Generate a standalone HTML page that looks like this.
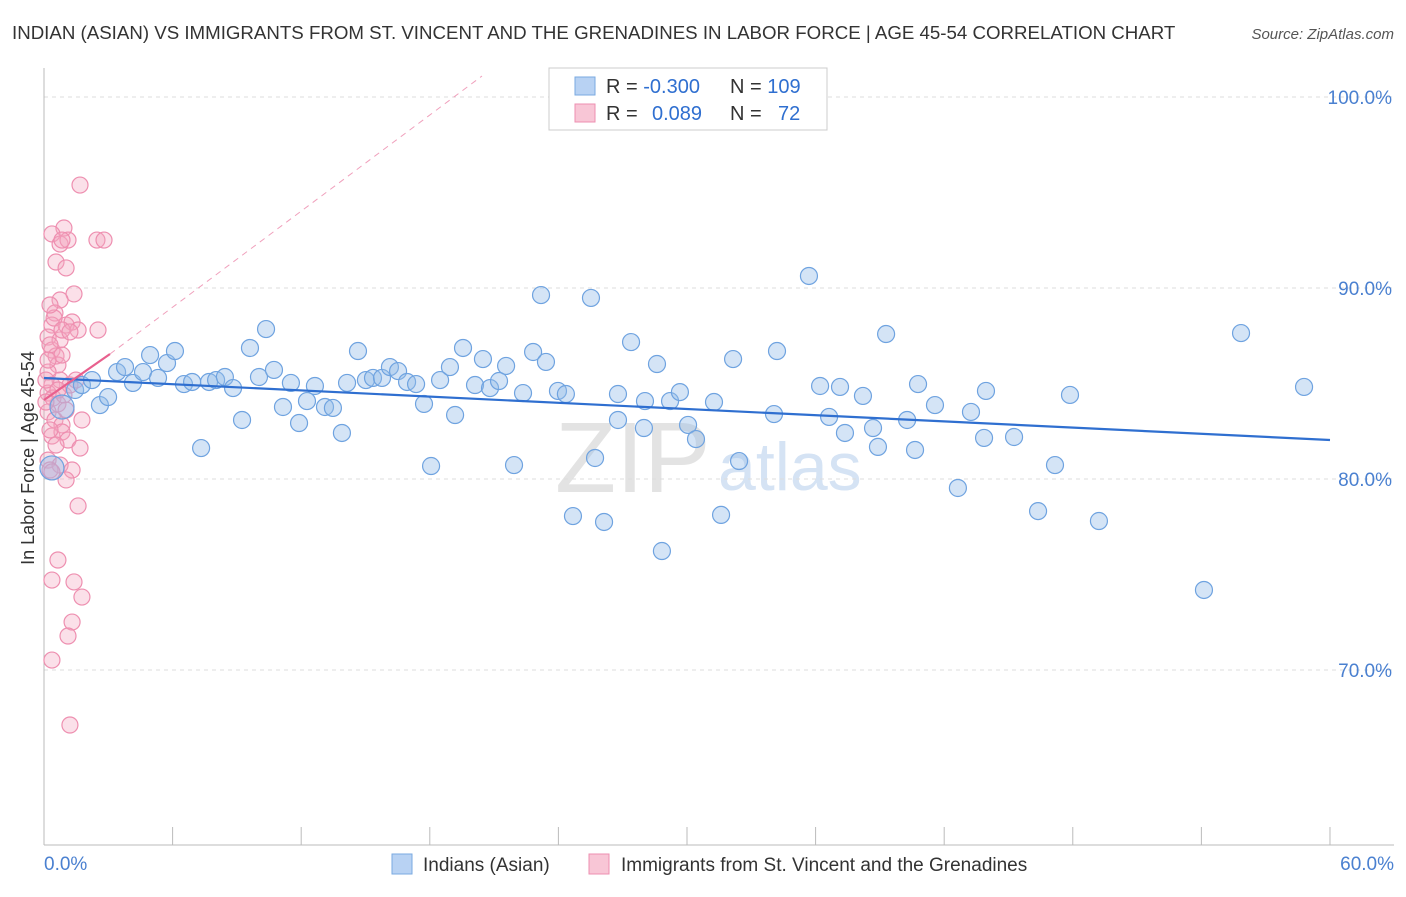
<!DOCTYPE html>
<html><head><meta charset="utf-8"><style>
body{margin:0;background:#fff;font-family:"Liberation Sans",sans-serif}
svg text{font-family:"Liberation Sans",sans-serif}
</style></head><body>
<svg id="chart" width="1406" height="892">
<text x="12" y="39" font-size="18.7" fill="#333">INDIAN (ASIAN) VS IMMIGRANTS FROM ST. VINCENT AND THE GRENADINES IN LABOR FORCE | AGE 45-54 CORRELATION CHART</text>
<text x="1394" y="39" font-size="15" fill="#555" font-style="italic" text-anchor="end">Source: ZipAtlas.com</text>
<text x="34" y="458" font-size="18" fill="#333" text-anchor="middle" transform="rotate(-90 34 458)">In Labor Force | Age 45-54</text>
<text x="555" y="492" font-size="100" fill="#e3e3e3" font-family="Liberation Serif">ZIP</text>
<text x="718" y="490" font-size="68" fill="#d5e3f4">atlas</text>
<g id="grid"></g><g id="axes"></g><g id="pts"></g><g id="trend"></g>
<g>
<rect x="549" y="68" width="278" height="62" fill="#fff" stroke="#ccc"/>
<rect x="575" y="77" width="20" height="18" fill="#b8d2f3" stroke="#7aaae0"/>
<rect x="575" y="104" width="20" height="18" fill="#f8c6d6" stroke="#ee8fb0"/>
<text x="606" y="93" font-size="20" fill="#333">R = <tspan fill="#2f6fd0">-0.300</tspan><tspan x="730">N = </tspan><tspan fill="#2f6fd0">109</tspan></text>
<text x="606" y="120" font-size="20" fill="#333">R = <tspan fill="#2f6fd0" x="652">0.089</tspan><tspan x="730">N = </tspan><tspan fill="#2f6fd0" x="778">72</tspan></text>
</g>
<g>
<rect x="392" y="854" width="20" height="20" fill="#b8d2f3" stroke="#7aaae0"/>
<text x="423" y="871" font-size="19" fill="#333">Indians (Asian)</text>
<rect x="589" y="854" width="20" height="20" fill="#f8c6d6" stroke="#ee8fb0"/>
<text x="621" y="871" font-size="19" fill="#333">Immigrants from St. Vincent and the Grenadines</text>
</g>
</svg>
<script>
const yTicks=[100,90,80,70];
const xTickLabels=["0.0%","60.0%"];
const bluePx=[[52,468],[62,407],[75,390],[82,385],[92,380],[100,405],[108,397],[117,372],[125,367],[133,383],[143,372],[150,355],[158,378],[167,363],[175,351],[184,384],[192,382],[201,448],[209,382],[216,380],[225,377],[233,388],[242,420],[250,348],[259,377],[266,329],[274,370],[283,407],[291,383],[299,423],[307,401],[315,386],[325,407],[333,408],[342,433],[347,383],[358,351],[366,380],[373,378],[382,378],[390,367],[398,371],[407,382],[416,384],[424,404],[431,466],[440,380],[450,367],[455,415],[463,348],[475,385],[483,359],[490,388],[499,381],[506,366],[514,465],[523,393],[533,352],[541,295],[546,362],[558,391],[566,394],[573,516],[591,298],[595,458],[604,522],[618,394],[618,420],[631,342],[644,428],[645,401],[657,364],[662,551],[670,401],[680,392],[688,425],[696,439],[714,402],[721,515],[733,359],[739,461],[774,414],[777,351],[809,276],[820,386],[829,417],[840,387],[845,433],[863,396],[873,428],[878,447],[886,334],[907,420],[915,450],[918,384],[935,405],[958,488],[971,412],[984,438],[986,391],[1014,437],[1038,511],[1055,465],[1070,395],[1099,521],[1204,590],[1241,333],[1304,387]];
const pinkPx=[[80,185],[64,228],[52,234],[60,244],[68,240],[97,240],[104,240],[56,262],[66,268],[74,294],[60,300],[55,313],[52,325],[66,325],[72,322],[78,330],[98,330],[48,337],[52,350],[56,356],[58,365],[48,372],[52,385],[60,380],[48,393],[53,398],[58,404],[48,412],[55,420],[62,425],[82,420],[52,436],[62,432],[68,440],[80,448],[48,460],[60,465],[72,470],[66,480],[78,506],[58,560],[52,580],[74,582],[82,597],[72,622],[68,636],[52,660],[70,725],[60,340],[50,345],[64,395],[70,385],[76,380],[50,430],[56,445],[50,470],[46,402],[62,355],[54,318],[48,360],[66,410],[58,390],[52,472],[62,330],[70,332],[46,380],[50,305],[62,240]];
const blueX=bluePx.map(p=>+((p[0]-44)/21.433).toFixed(2));
const blueY=bluePx.map(p=>+(100-(p[1]-97)/19.1).toFixed(2));
const pinkX=pinkPx.map(p=>+((p[0]-44)/21.433).toFixed(2));
const pinkY=pinkPx.map(p=>+(100-(p[1]-97)/19.1).toFixed(2));
const xs=v=>44+v*21.433, ys=v=>97+(100-v)*19.1;
const NS="http://www.w3.org/2000/svg";
function mk(tag,attrs,parent){const e=document.createElementNS(NS,tag);for(const k in attrs)e.setAttribute(k,attrs[k]);document.getElementById(parent).appendChild(e);return e;}
yTicks.forEach(t=>{
 const l=mk('line',{x1:44,x2:1394,y1:ys(t),y2:ys(t),stroke:'#ddd','stroke-dasharray':'4,4'},'grid');
 
 
 const tx=mk('text',{x:1392,y:ys(t)+7,'font-size':19,fill:'#4a80d0','text-anchor':'end'},'grid');
 tx.textContent=t.toFixed(1)+'%';
 
 
});
mk('line',{x1:44,x2:44,y1:68,y2:845,stroke:'#bbb'},'axes');
mk('line',{x1:44,x2:1394,y1:845,y2:845,stroke:'#bbb'},'axes');
for(let i=0;i<=10;i++){const x=xs(i*6);const t=mk('line',{x1:x,x2:x,y1:827,y2:845,stroke:'#bbb'},'axes');
 
 }
const xl0=mk('text',{x:44,y:870,'font-size':19,fill:'#4a80d0'},'axes');xl0.textContent=xTickLabels[0];


const xl1=mk('text',{x:1394,y:870,'font-size':19,fill:'#4a80d0','text-anchor':'end'},'axes');xl1.textContent=xTickLabels[1];


pinkX.forEach((x,i)=>{const c=mk('circle',{cx:xs(x),cy:ys(pinkY[i]),r:8,fill:'rgba(244,167,192,0.35)',stroke:'#ee8fb0','stroke-width':1.2},'pts');
 
 });
blueX.forEach((x,i)=>{const c=mk('circle',{cx:xs(x),cy:ys(blueY[i]),r:(i<2?12:8.5),fill:'rgba(147,187,232,0.4)',stroke:'#6fa3e0','stroke-width':1.2},'pts');
 
 });
const bt=mk('line',{x1:44,y1:378,x2:1330,y2:440,stroke:'#2f6fd0','stroke-width':2.2},'trend');


const pd=mk('line',{x1:110,y1:354,x2:482,y2:76,stroke:'#f0a0bc','stroke-width':1,'stroke-dasharray':'6,5'},'trend');


const pt=mk('line',{x1:44,y1:400,x2:110,y2:354,stroke:'#e8608e','stroke-width':2.2},'trend');


</script>
</body></html>
